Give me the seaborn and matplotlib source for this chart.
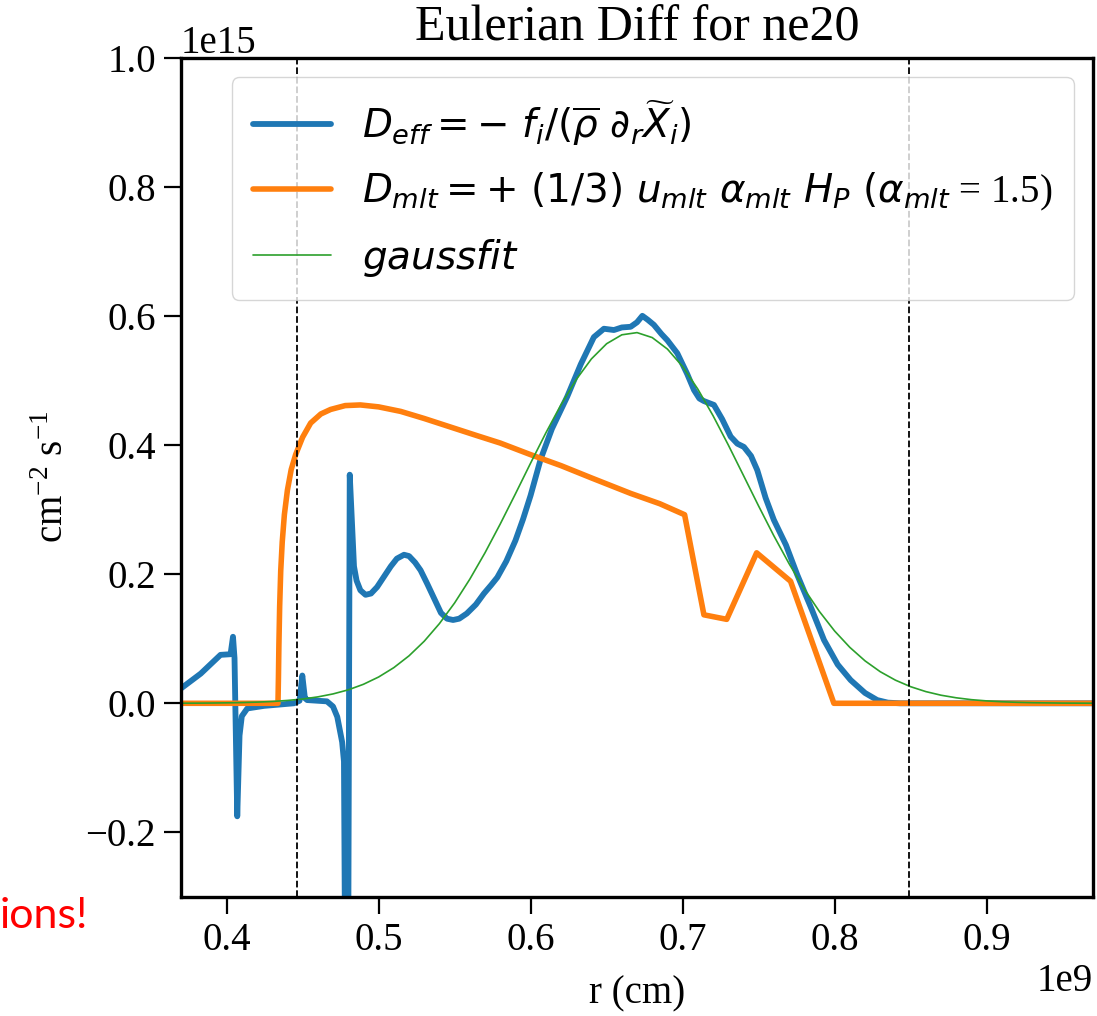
import numpy as np
import pandas as pd
import matplotlib
matplotlib.use("Agg")
import matplotlib.pyplot as plt
import seaborn as sns

# ---- data (x in units of 1e9 cm, y in units of 1e15) ----
r_eff = [0.370, 0.383, 0.396, 0.4026, 0.4042, 0.4052, 0.4070, 0.4085, 0.4100, 0.4136,
         0.4246, 0.4443, 0.4480, 0.4498, 0.4515, 0.4530, 0.4660, 0.4700, 0.4728, 0.4760,
         0.4772, 0.4782, 0.4800, 0.4810, 0.4838, 0.4855, 0.4880, 0.4914, 0.4950, 0.4990,
         0.5035, 0.5080, 0.5120, 0.5167, 0.5200, 0.5240, 0.5276, 0.5320, 0.5370, 0.5410,
         0.5450, 0.5490, 0.5530, 0.5580, 0.5640, 0.5693, 0.5740, 0.5781, 0.5840, 0.5900,
         0.5950, 0.6000, 0.6066, 0.6140, 0.6241, 0.6330, 0.6416, 0.6482, 0.6548, 0.6600,
         0.6658, 0.6700, 0.6735, 0.6770, 0.6811, 0.6860, 0.6900, 0.6965, 0.7030, 0.7075,
         0.7110, 0.7140, 0.7206, 0.7260, 0.7316, 0.7360, 0.7403, 0.7450, 0.7491, 0.7546,
         0.7600, 0.7680, 0.7754, 0.7850, 0.7930, 0.8020, 0.8105, 0.8200, 0.8280, 0.8350,
         0.8430, 0.9000, 0.9700]
d_eff = [0.023, 0.046, 0.075, 0.076, 0.103, 0.070, -0.175, -0.050, -0.020, -0.008,
         -0.004, 0.000, 0.004, 0.043, 0.008, 0.005, 0.003, -0.005, -0.021, -0.060,
         -0.090, -0.500, -0.400, 0.354, 0.212, 0.190, 0.175, 0.168, 0.170, 0.180,
         0.196, 0.212, 0.224, 0.230, 0.228, 0.218, 0.206, 0.185, 0.160, 0.140,
         0.131, 0.129, 0.131, 0.139, 0.153, 0.170, 0.183, 0.195, 0.220, 0.252,
         0.285, 0.322, 0.378, 0.425, 0.475, 0.525, 0.567, 0.580, 0.578, 0.582,
         0.583, 0.590, 0.600, 0.594, 0.586, 0.572, 0.562, 0.542, 0.510, 0.485,
         0.472, 0.468, 0.462, 0.440, 0.413, 0.402, 0.397, 0.383, 0.361, 0.318,
         0.284, 0.245, 0.199, 0.145, 0.098, 0.060, 0.036, 0.016, 0.005, 0.001,
         0.000, 0.000, 0.000]

r_mlt = [0.370, 0.4338, 0.4341, 0.4344, 0.4349, 0.4356, 0.4366, 0.4380, 0.4400, 0.4425,
         0.4454, 0.4500, 0.4553, 0.4620, 0.4684, 0.4780, 0.4880, 0.5000, 0.5145, 0.5300,
         0.5470, 0.5640, 0.5800, 0.6000, 0.6200, 0.6400, 0.6658, 0.6850, 0.7013, 0.7140,
         0.7290, 0.7487, 0.7710, 0.7995, 0.9700]
d_mlt = [0.000, 0.000, 0.040, 0.090, 0.150, 0.205, 0.250, 0.292, 0.330, 0.362,
         0.385, 0.412, 0.434, 0.448, 0.455, 0.461, 0.462, 0.459, 0.452, 0.441,
         0.428, 0.415, 0.403, 0.385, 0.368, 0.349, 0.325, 0.309, 0.292, 0.137,
         0.130, 0.233, 0.189, 0.000, 0.000]

r_fit = [0.37, 0.38, 0.39, 0.40, 0.41, 0.42, 0.43, 0.44, 0.45, 0.46, 0.47, 0.48, 0.49,
         0.50, 0.51, 0.52, 0.53, 0.54, 0.55, 0.56, 0.57, 0.58, 0.59, 0.60, 0.61, 0.62,
         0.63, 0.64, 0.65, 0.66, 0.67, 0.68, 0.69, 0.70, 0.71, 0.72, 0.73, 0.74, 0.75,
         0.76, 0.77, 0.78, 0.79, 0.80, 0.81, 0.82, 0.83, 0.84, 0.85, 0.86, 0.87, 0.88,
         0.89, 0.90, 0.91, 0.92, 0.93, 0.94, 0.95, 0.96, 0.97]
d_fit = [0.0001, 0.0002, 0.0004, 0.0007, 0.0011, 0.0018, 0.0028, 0.0044, 0.0066, 0.0099,
         0.0145, 0.0208, 0.0294, 0.0407, 0.0552, 0.0735, 0.0961, 0.1234, 0.1554, 0.1922,
         0.2331, 0.2776, 0.3243, 0.3720, 0.4186, 0.4624, 0.5013, 0.5333, 0.5568, 0.5706,
         0.5740, 0.5663, 0.5485, 0.5214, 0.4865, 0.4454, 0.4002, 0.3529, 0.3054, 0.2594,
         0.2163, 0.1769, 0.1421, 0.1119, 0.0866, 0.0657, 0.0489, 0.0358, 0.0257, 0.0181,
         0.0125, 0.0085, 0.0056, 0.0037, 0.0024, 0.0015, 0.0009, 0.0006, 0.0003, 0.0002,
         0.0001]

conv_bounds = [0.446, 0.849]

label_eff = r'$D_{eff} = -\ f_i/(\overline{\rho}\ \partial_r\widetilde{X}_i)$'
label_mlt = r'$D_{mlt} = +\ (1/3)\ u_{mlt}\ \alpha_{mlt}\ H_P\ (\alpha_{mlt}$ = 1.5)'
label_fit = r'$gaussfit$'

# ---- style ----
sns.set_style("ticks")
plt.rcParams['font.family'] = ['Liberation Serif', 'DejaVu Serif']
plt.rcParams['mathtext.fontset'] = 'dejavusans'
plt.rcParams['font.size'] = 28
plt.rcParams['axes.linewidth'] = 2.4
plt.rcParams['axes.edgecolor'] = 'black'
for k in ['text.color', 'axes.labelcolor', 'xtick.color', 'ytick.color']:
    plt.rcParams[k] = 'black'

fig = plt.figure(figsize=(10.97, 10.16), dpi=100)
ax = fig.add_axes([0.165, 0.1171, 0.8314, 0.8263])

df_eff = pd.DataFrame({'r': np.array(r_eff) * 1e9, 'D': np.array(d_eff) * 1e15})
df_mlt = pd.DataFrame({'r': np.array(r_mlt) * 1e9, 'D': np.array(d_mlt) * 1e15})
df_fit = pd.DataFrame({'r': np.array(r_fit) * 1e9, 'D': np.array(d_fit) * 1e15})

sns.lineplot(data=df_eff, x='r', y='D', ax=ax, sort=False, estimator=None,
             color='#1f77b4', lw=4.2, label=label_eff, solid_joinstyle='round')
sns.lineplot(data=df_mlt, x='r', y='D', ax=ax, sort=False, estimator=None,
             color='#ff7f0e', lw=4, label=label_mlt, solid_joinstyle='round')
sns.lineplot(data=df_fit, x='r', y='D', ax=ax, sort=False, estimator=None,
             color='#2ca02c', lw=1.2, label=label_fit)

for xb in conv_bounds:
    ax.axvline(xb * 1e9, color='black', ls='--', lw=1.3)

ax.set_xlim(0.37e9, 0.97e9)
ax.set_ylim(-0.3e15, 1.0e15)
ax.set_xticks(np.arange(0.4, 0.95, 0.1) * 1e9)
ax.set_yticks(np.arange(-0.2, 1.01, 0.2) * 1e15)
ax.ticklabel_format(axis='x', style='sci', scilimits=(9, 9))
ax.ticklabel_format(axis='y', style='sci', scilimits=(15, 15))

ax.set_title('Eulerian Diff for ne20', fontsize=36, pad=12)
ax.set_xlabel('r (cm)', fontsize=28, labelpad=12)
ax.set_ylabel(r'cm$^{\mathregular{-2}}$ s$^{\mathregular{-1}}$', fontsize=28, labelpad=10)

ax.tick_params(axis='both', which='major', labelsize=28, length=12, width=1.6,
               direction='out', pad=6, color='black', labelcolor='black')
ax.xaxis.get_offset_text().set_fontsize(28)
ax.yaxis.get_offset_text().set_fontsize(28)

leg = ax.legend(loc='upper right', fontsize=28, frameon=True, fancybox=True,
                framealpha=0.8, edgecolor='#cccccc', handlelength=2.0,
                labelspacing=0.6, borderpad=0.55)

fig.text(0.0, 0.0866, 'ions!', color='red', fontsize=31, family=['Lato', 'DejaVu Sans'],
         ha='left', va='baseline')

fig.savefig('out.png', dpi=100)
